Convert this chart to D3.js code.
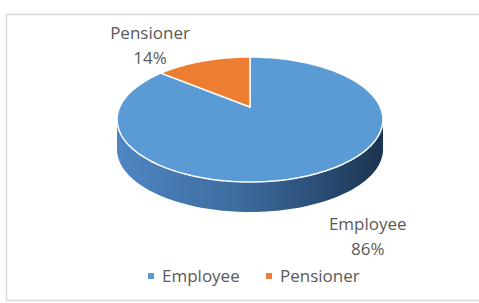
<html>
<head>
  <script src="https://cdn.jsdelivr.net/npm/d3@7"></script>
  <style>
    body {
      margin: 0;
      background: #fff;
    }

    text {
      font-family: 'Open Sans', sans-serif;
      fill: #595959;
    }
  </style>
</head>

<body>
  <div id="chart"></div>
</body>

<script>
  // data
  const categories = ["Employee", "Pensioner"]
  const values = [86, 14]
  const colors = ["#5b9bd5", "#ed7d31"]

  const width = 479
  const height = 303

  // 3d pie geometry (perspective: far side is squeezed)
  const cx = 250
  const cy = 107
  const rx = 130.3
  const ry = 60
  const k = 0.2
  const depth = 30

  //円周上の点を透視投影
  function proj(a, f = 1, dy = 0) {
    let X = Math.sin(a) * f
    let Y = Math.cos(a) * f
    let d = 1 + k * Y
    return [cx + rx * X / d, cy - ry * Y / d + dy]
  }

  function arcPts(a0, a1, dy = 0, n = 80) {
    let pts = []
    for (let i = 0; i <= n; i++) {
      pts.push(proj(a0 + (a1 - a0) * i / n, 1, dy))
    }
    return pts
  }

  const svg = d3.select("#chart").append("svg")
    .attr("width", width)
    .attr("height", height)

  // chart frame
  svg.append("rect")
    .attr("x", 6.5).attr("y", 14.5)
    .attr("width", 520).attr("height", 286)
    .attr("fill", "#fff")
    .attr("stroke", "#d9d9d9")
    .attr("stroke-width", 1.5)

  const defs = svg.append("defs")
  const grad = defs.append("linearGradient").attr("id", "side")
    .attr("gradientUnits", "userSpaceOnUse")
    .attr("x1", cx - 133).attr("x2", cx + 133).attr("y1", 0).attr("y2", 0)
  grad.append("stop").attr("offset", 0).attr("stop-color", "#4f86c3")
  grad.append("stop").attr("offset", 0.45).attr("stop-color", "#3d6c9f")
  grad.append("stop").attr("offset", 0.8).attr("stop-color", "#284a70")
  grad.append("stop").attr("offset", 1).attr("stop-color", "#1c3450")

  const pie = d3.pie().sort(null).value(d => d)
  const arcs = pie(values)

  const line = d3.line()

  // side wall (front half only is visible)
  const aL = Math.PI + Math.acos(-k) * 0 + Math.acos(k)   // left extreme
  const aR = Math.PI - Math.acos(k)                         // right extreme
  let sideTop = arcPts(aR, aL, 0)
  let sideBot = arcPts(aL, aR, depth)
  svg.append("path")
    .attr("d", line(sideTop.concat(sideBot)) + "Z")
    .attr("fill", "url(#side)")

  // top face
  svg.selectAll(".slice").data(arcs).join("path")
    .attr("class", "slice")
    .attr("d", d => line([[cx, cy]].concat(arcPts(d.startAngle, d.endAngle))) + "Z")
    .attr("fill", (d, i) => colors[i])
    .attr("stroke", "#fff")
    .attr("stroke-width", 1.5)
    .attr("stroke-linejoin", "round")

  // data labels
  const lab = svg.selectAll(".lab").data(arcs).join("text")
    .attr("class", "lab")
    .attr("text-anchor", "middle")
    .attr("font-size", 17)
    .attr("transform", d => {
      let mid = (d.startAngle + d.endAngle) / 2
      let p = proj(mid)
      let front = Math.cos(mid) < 0
      let x = p[0] + (Math.sin(mid) > 0 ? 50 : -53)
      let y = front ? p[1] + depth + 27 : p[1] - 22
      return `translate(${x},${y})`
    })
  lab.append("tspan").attr("x", 0).attr("dy", 0)
    .text((d, i) => categories[i])
  lab.append("tspan").attr("x", 0).attr("dy", 24.5)
    .text((d, i) => Math.round(d.value / d3.sum(values) * 100) + "%")

  // legend
  const legX = d3.scalePoint().domain(categories).range([148, 266])
  const leg = svg.selectAll(".leg").data(categories).join("g")
    .attr("class", "leg")
    .attr("transform", d => `translate(${legX(d)},276)`)
  leg.append("rect")
    .attr("x", 0).attr("y", -3)
    .attr("width", 6).attr("height", 6)
    .attr("fill", (d, i) => colors[i])
  leg.append("text")
    .attr("x", 14).attr("y", 6)
    .attr("font-size", 17)
    .text(d => d)
</script>

</html>
